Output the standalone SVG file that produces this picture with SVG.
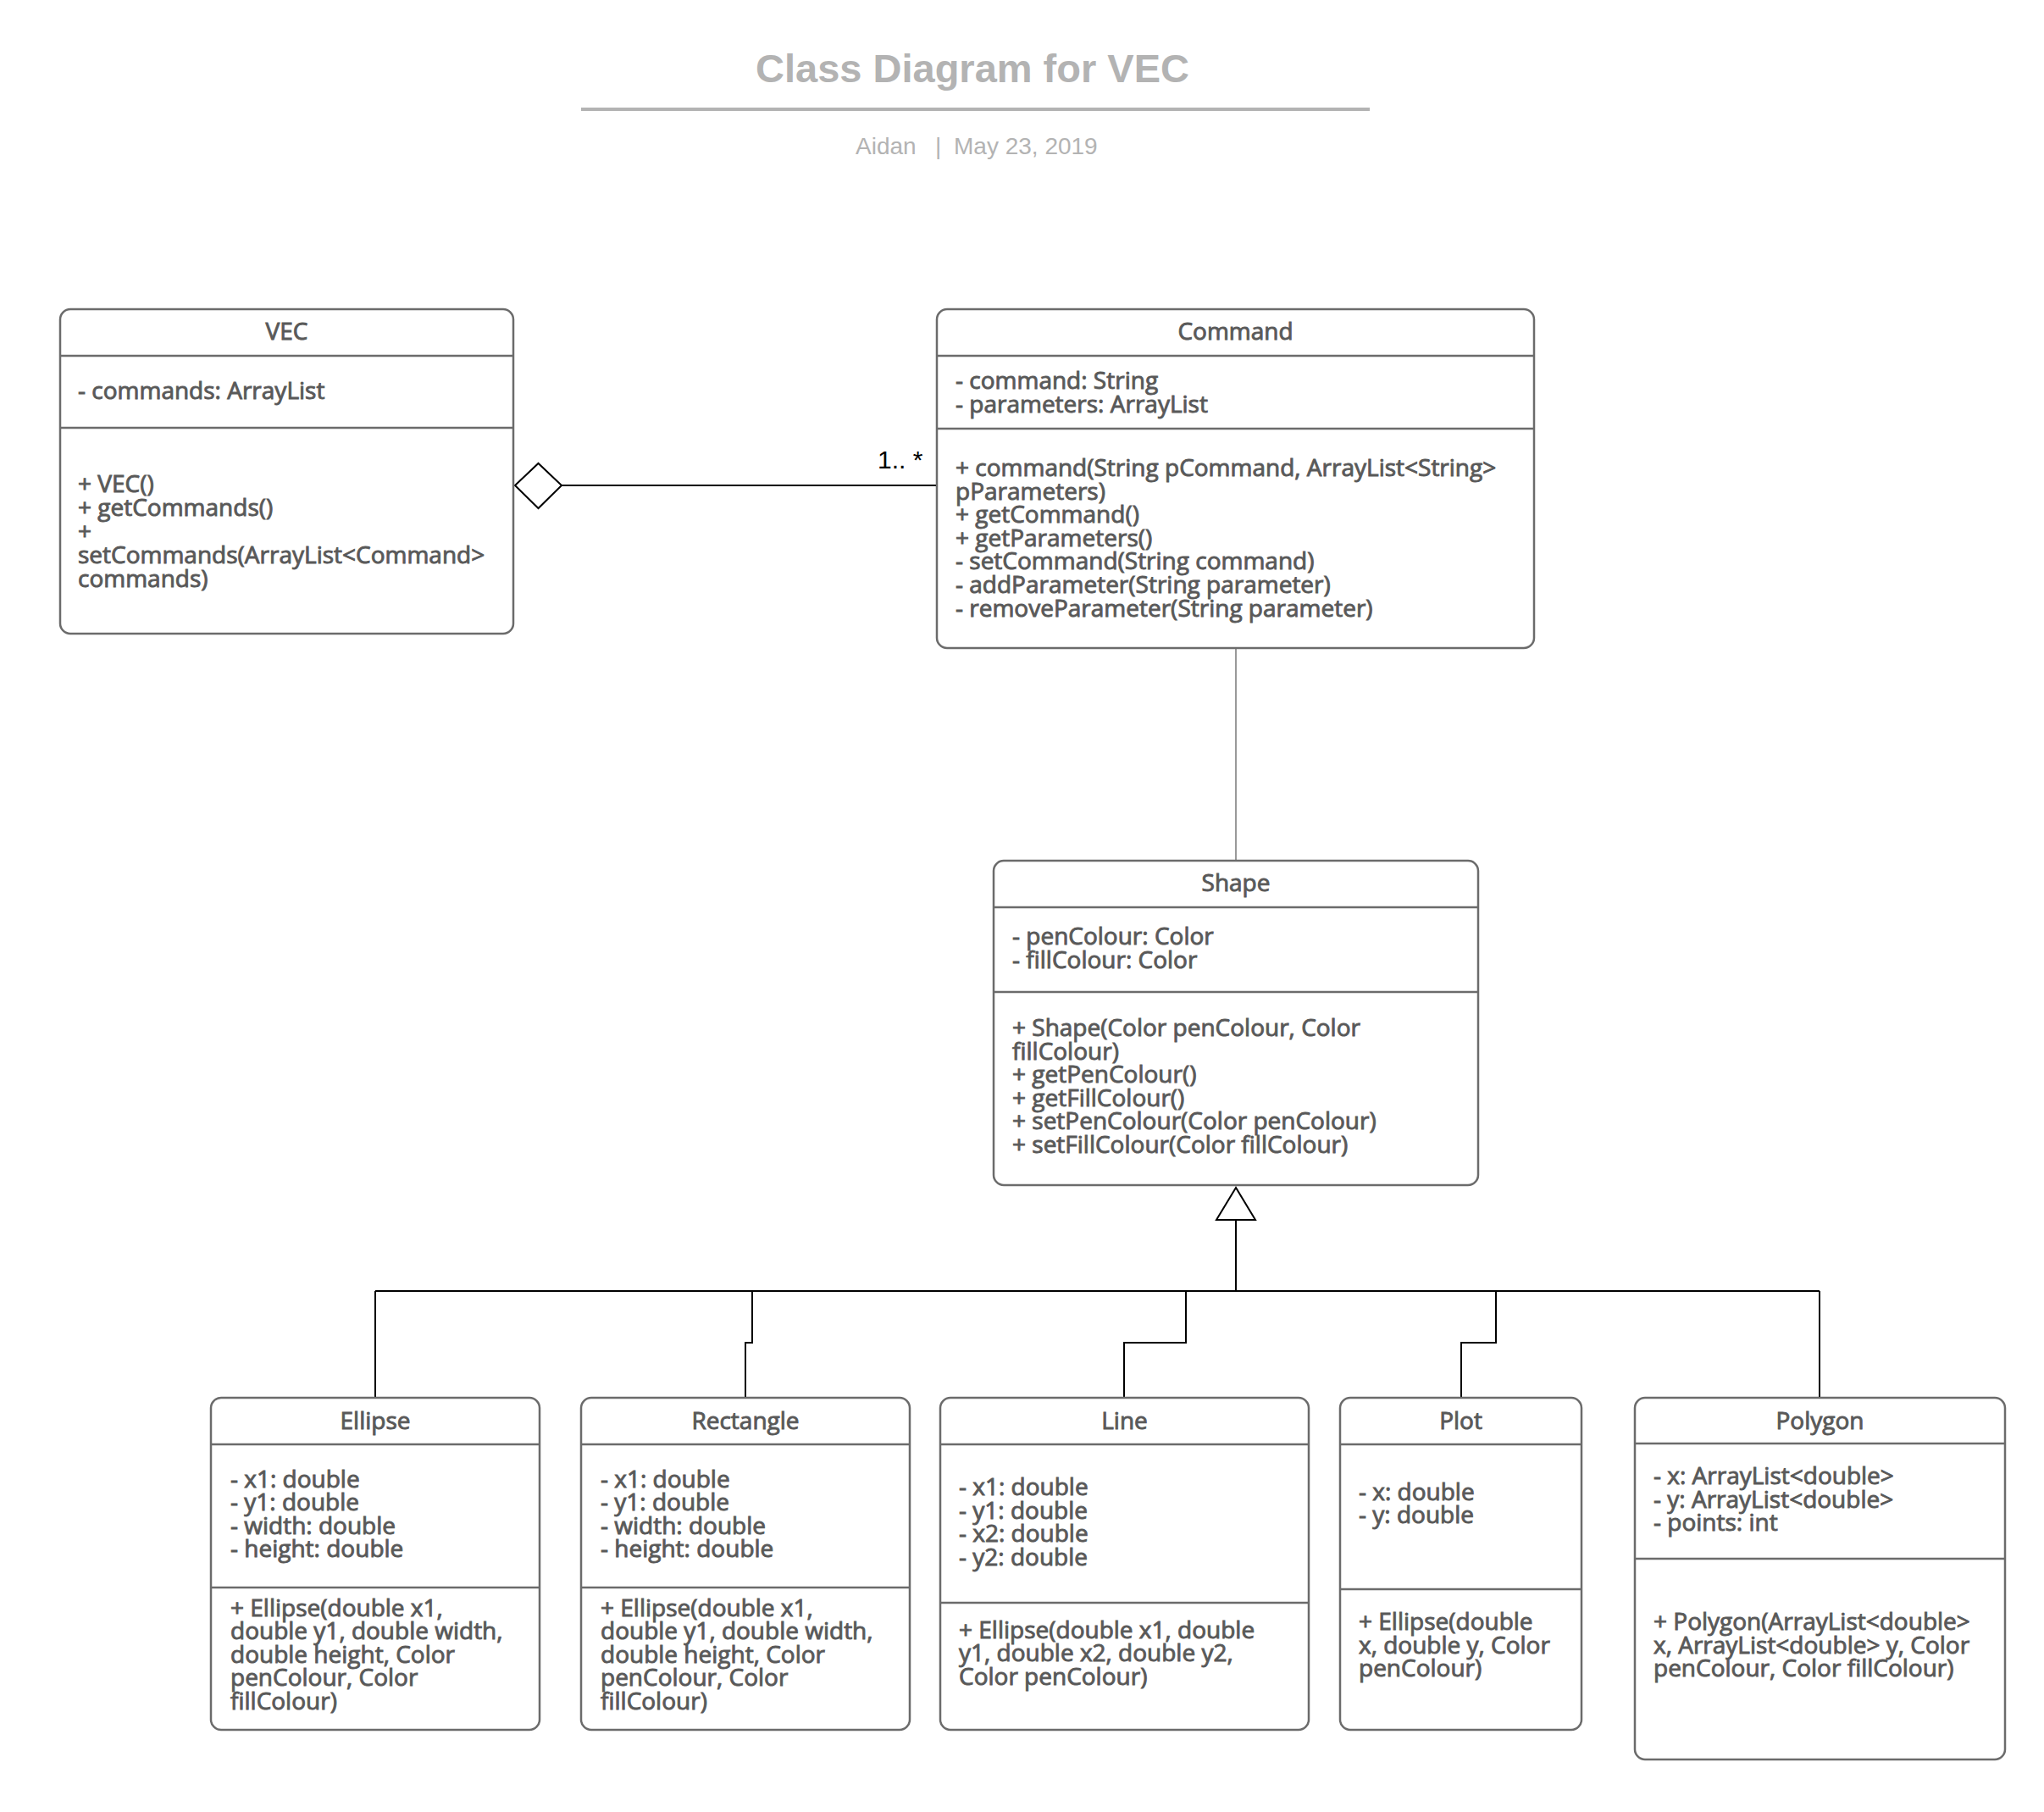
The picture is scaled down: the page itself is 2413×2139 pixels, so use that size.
<svg xmlns="http://www.w3.org/2000/svg" width="2413" height="2139" viewBox="0 0 2413 2139">
<style>
.t{font-family:"Open Sans","Noto Sans","Liberation Sans",sans-serif;font-size:28px;font-weight:400;fill:#595959;stroke:#595959;stroke-width:0.9px}
.h{text-anchor:middle}
.box{fill:#fff;stroke:#6b6b6b;stroke-width:2.5}
.dv{stroke:#6b6b6b;stroke-width:2.5}
.c{fill:none;stroke:#000;stroke-width:2}
.hd{font-family:"Liberation Sans",Arial,sans-serif;fill:#b3b3b3}
</style>
<rect width="2413" height="2139" fill="#fff"/>
<g id="header">
<text class="hd" x="1148" y="97" font-size="47" font-weight="bold" text-anchor="middle">Class Diagram for VEC</text>
<line x1="686" y1="129" x2="1617" y2="129" stroke="#b3b3b3" stroke-width="4"/>
<text class="hd" y="182" font-size="28"><tspan x="1010">Aidan</tspan><tspan x="1104">|</tspan><tspan x="1126">May 23, 2019</tspan></text>
</g>
<g id="connectors">
<polygon points="608,573 635.5,547 663,573 635.5,600" fill="#fff" stroke="#000" stroke-width="2"/>
<line class="c" x1="663" y1="573" x2="1106" y2="573"/>
<text x="1036" y="553" font-family="Liberation Sans,Arial,sans-serif" font-size="30" fill="#000">1.. *</text>
<line x1="1459" y1="765" x2="1459" y2="1016" stroke="#777" stroke-width="1.5"/>
<polygon points="1459,1402 1436,1440 1482,1440" fill="#fff" stroke="#000" stroke-width="2"/>
<line class="c" x1="1459" y1="1440" x2="1459" y2="1524"/>
<line class="c" x1="443" y1="1524" x2="2148" y2="1524"/>
<polyline class="c" points="443,1524 443,1650"/>
<polyline class="c" points="888,1524 888,1585 880,1585 880,1650"/>
<polyline class="c" points="1400,1524 1400,1585 1327,1585 1327,1650"/>
<polyline class="c" points="1766,1524 1766,1585 1725,1585 1725,1650"/>
<polyline class="c" points="2148,1524 2148,1650"/>
</g>
<g id="VEC">
<rect class="box" x="71" y="365" width="535" height="383" rx="12"/>
<line class="dv" x1="71" y1="420" x2="606" y2="420"/>
<line class="dv" x1="71" y1="505" x2="606" y2="505"/>
<text class="t h" x="338.5" y="401">VEC</text>
<text class="t" x="92" y="471">- commands: ArrayList</text>
<text class="t"><tspan x="92" y="581">+ VEC()</tspan><tspan x="92" y="609">+ getCommands()</tspan><tspan x="92" y="637">+</tspan><tspan x="92" y="665">setCommands(ArrayList&lt;Command&gt;</tspan><tspan x="92" y="693">commands)</tspan></text>
</g>
<g id="Command">
<rect class="box" x="1106" y="365" width="705" height="400" rx="12"/>
<line class="dv" x1="1106" y1="420" x2="1811" y2="420"/>
<line class="dv" x1="1106" y1="506" x2="1811" y2="506"/>
<text class="t h" x="1458.5" y="401">Command</text>
<text class="t"><tspan x="1128" y="459">- command: String</tspan><tspan x="1128" y="486.5">- parameters: ArrayList</tspan></text>
<text class="t"><tspan x="1128" y="562">+ command(String pCommand, ArrayList&lt;String&gt;</tspan><tspan x="1128" y="589.6">pParameters)</tspan><tspan x="1128" y="617.2">+ getCommand()</tspan><tspan x="1128" y="644.8">+ getParameters()</tspan><tspan x="1128" y="672.4">- setCommand(String command)</tspan><tspan x="1128" y="700">- addParameter(String parameter)</tspan><tspan x="1128" y="727.6">- removeParameter(String parameter)</tspan></text>
</g>
<g id="Shape">
<rect class="box" x="1173" y="1016" width="572" height="383" rx="12"/>
<line class="dv" x1="1173" y1="1071" x2="1745" y2="1071"/>
<line class="dv" x1="1173" y1="1171" x2="1745" y2="1171"/>
<text class="t h" x="1459" y="1052">Shape</text>
<text class="t"><tspan x="1195" y="1115">- penColour: Color</tspan><tspan x="1195" y="1143">- fillColour: Color</tspan></text>
<text class="t"><tspan x="1195" y="1223">+ Shape(Color penColour, Color</tspan><tspan x="1195" y="1250.5">fillColour)</tspan><tspan x="1195" y="1278">+ getPenColour()</tspan><tspan x="1195" y="1305.5">+ getFillColour()</tspan><tspan x="1195" y="1333">+ setPenColour(Color penColour)</tspan><tspan x="1195" y="1360.5">+ setFillColour(Color fillColour)</tspan></text>
</g>
<g id="Ellipse">
<rect class="box" x="249" y="1650" width="388" height="392" rx="12"/>
<line class="dv" x1="249" y1="1705" x2="637" y2="1705"/>
<line class="dv" x1="249" y1="1874" x2="637" y2="1874"/>
<text class="t h" x="443" y="1687">Ellipse</text>
<text class="t"><tspan x="272" y="1756">- x1: double</tspan><tspan x="272" y="1783.3">- y1: double</tspan><tspan x="272" y="1810.6">- width: double</tspan><tspan x="272" y="1838">- height: double</tspan></text>
<text class="t"><tspan x="272" y="1908">+ Ellipse(double x1,</tspan><tspan x="272" y="1935.4">double y1, double width,</tspan><tspan x="272" y="1962.8">double height, Color</tspan><tspan x="272" y="1990.2">penColour, Color</tspan><tspan x="272" y="2017.6">fillColour)</tspan></text>
</g>
<g id="Rectangle">
<rect class="box" x="686" y="1650" width="388" height="392" rx="12"/>
<line class="dv" x1="686" y1="1705" x2="1074" y2="1705"/>
<line class="dv" x1="686" y1="1874" x2="1074" y2="1874"/>
<text class="t h" x="880" y="1687">Rectangle</text>
<text class="t"><tspan x="709" y="1756">- x1: double</tspan><tspan x="709" y="1783.3">- y1: double</tspan><tspan x="709" y="1810.6">- width: double</tspan><tspan x="709" y="1838">- height: double</tspan></text>
<text class="t"><tspan x="709" y="1908">+ Ellipse(double x1,</tspan><tspan x="709" y="1935.4">double y1, double width,</tspan><tspan x="709" y="1962.8">double height, Color</tspan><tspan x="709" y="1990.2">penColour, Color</tspan><tspan x="709" y="2017.6">fillColour)</tspan></text>
</g>
<g id="Line">
<rect class="box" x="1110" y="1650" width="435" height="392" rx="12"/>
<line class="dv" x1="1110" y1="1705" x2="1545" y2="1705"/>
<line class="dv" x1="1110" y1="1892" x2="1545" y2="1892"/>
<text class="t h" x="1327.5" y="1687">Line</text>
<text class="t"><tspan x="1132" y="1765">- x1: double</tspan><tspan x="1132" y="1792.5">- y1: double</tspan><tspan x="1132" y="1820">- x2: double</tspan><tspan x="1132" y="1847.5">- y2: double</tspan></text>
<text class="t"><tspan x="1132" y="1933.5">+ Ellipse(double x1, double</tspan><tspan x="1132" y="1961">y1, double x2, double y2,</tspan><tspan x="1132" y="1988.5">Color penColour)</tspan></text>
</g>
<g id="Plot">
<rect class="box" x="1582" y="1650" width="285" height="392" rx="12"/>
<line class="dv" x1="1582" y1="1705" x2="1867" y2="1705"/>
<line class="dv" x1="1582" y1="1876" x2="1867" y2="1876"/>
<text class="t h" x="1724.5" y="1687">Plot</text>
<text class="t"><tspan x="1604" y="1770.5">- x: double</tspan><tspan x="1604" y="1798">- y: double</tspan></text>
<text class="t"><tspan x="1604" y="1924">+ Ellipse(double</tspan><tspan x="1604" y="1951.5">x, double y, Color</tspan><tspan x="1604" y="1979">penColour)</tspan></text>
</g>
<g id="Polygon">
<rect class="box" x="1930" y="1650" width="437" height="427" rx="12"/>
<line class="dv" x1="1930" y1="1704" x2="2367" y2="1704"/>
<line class="dv" x1="1930" y1="1840" x2="2367" y2="1840"/>
<text class="t h" x="2148.5" y="1687">Polygon</text>
<text class="t"><tspan x="1952" y="1752">- x: ArrayList&lt;double&gt;</tspan><tspan x="1952" y="1779.5">- y: ArrayList&lt;double&gt;</tspan><tspan x="1952" y="1807">- points: int</tspan></text>
<text class="t"><tspan x="1952" y="1924">+ Polygon(ArrayList&lt;double&gt;</tspan><tspan x="1952" y="1951.5">x, ArrayList&lt;double&gt; y, Color</tspan><tspan x="1952" y="1979">penColour, Color fillColour)</tspan></text>
</g>
</svg>
